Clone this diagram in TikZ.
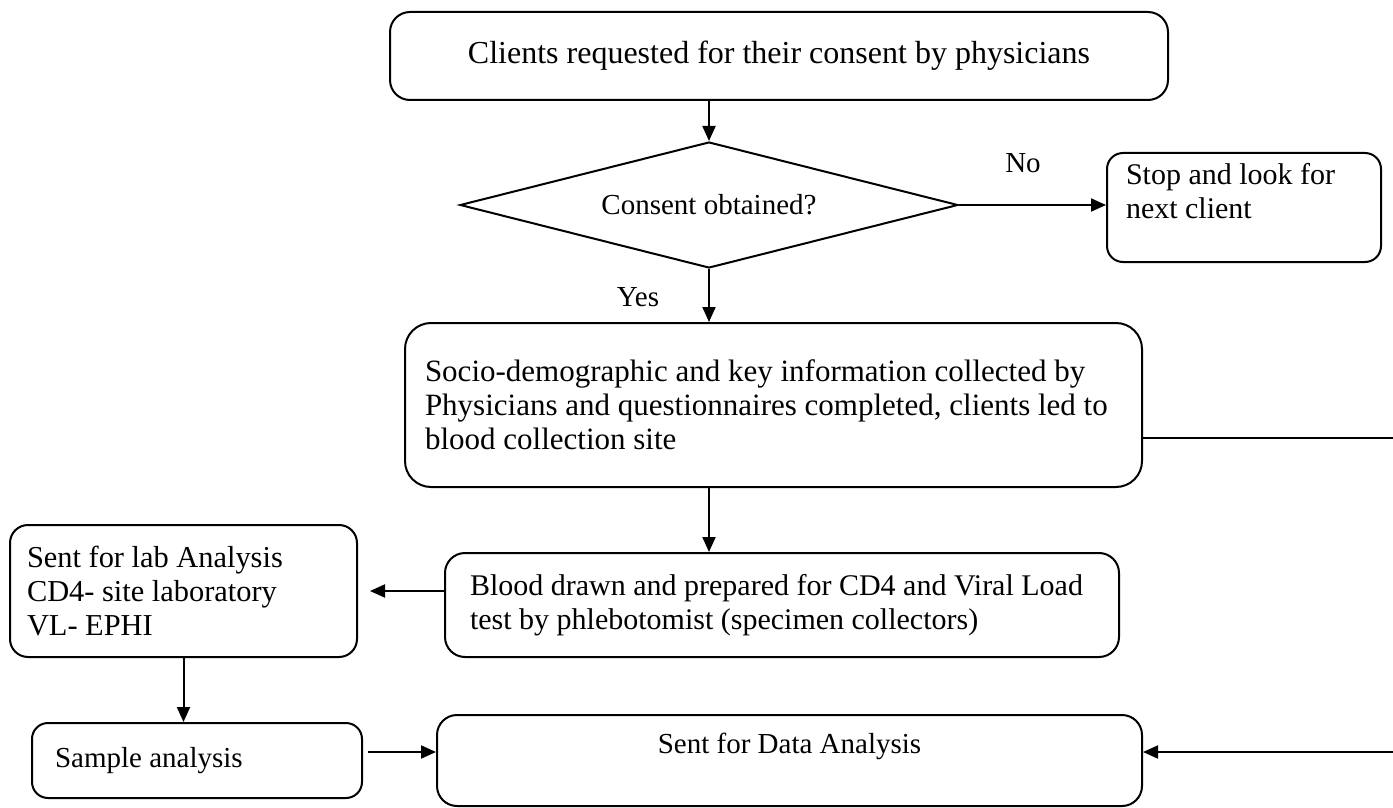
\documentclass[tikz,border=0pt]{standalone}
\usepackage{fontspec}
\setmainfont{Liberation Serif}
\usetikzlibrary{shapes.geometric,arrows.meta}
\newcommand{\fs}{\fontsize{14.5}{17}\selectfont}
\newcommand{\fsz}[1]{\fontsize{#1}{17}\selectfont}
\begin{document}
\begin{tikzpicture}[x=0.5pt,y=-0.5pt,
  box/.style={draw, line width=1pt, font=\fs, inner ysep=0pt},
  lbox/.style={box, align=flush left},
  arr/.style={line width=1pt, -{Triangle[length=7.5pt,width=6.5pt]}},
  ln/.style={line width=1pt},
  lbl/.style={font=\fs, inner sep=0pt}]
\useasboundingbox (0,0) rectangle (1393,808);
\node[box, rounded corners=10pt, minimum width=389pt, minimum height=44pt, align=center, font=\fsz{16}] (top) at (779,56) {Clients requested for their consent by physicians};
\node[draw, diamond, line width=1pt, aspect=3.95, minimum width=249pt, minimum height=63pt, inner sep=0pt, font=\fs] (dia) at (709,205) {Consent obtained?};
\node[lbox, rounded corners=8pt, minimum width=137pt, minimum height=54.5pt, inner xsep=9.5pt, text width=118pt, font=\fsz{15}] (stop) at (1244,207.5) {Stop and look for\\next client\\\mbox{}};
\node[lbox, rounded corners=13pt, minimum width=368.5pt, minimum height=82pt, inner xsep=10pt, text width=348.5pt, font=\fsz{15.5}] (socio) at (773.5,405) {Socio-demographic and key information collected by\\Physicians and questionnaires completed, clients led to\\blood collection site};
\node[lbox, rounded corners=10pt, minimum width=337pt, minimum height=52pt, inner xsep=12.5pt, text width=312pt, font=\fsz{15}] (blood) at (782,605) {Blood drawn and prepared for CD4 and Viral Load\\test by phlebotomist (specimen collectors)};
\node[lbox, rounded corners=9pt, minimum width=173.5pt, minimum height=66pt, inner xsep=8.5pt, text width=156.5pt, font=\fsz{15.2}] (lab) at (183.5,591) {Sent for lab Analysis\\CD4- site laboratory\\VL- EPHI};
\node[lbox, rounded corners=8pt, minimum width=165pt, minimum height=37.5pt, inner xsep=11.5pt, text width=142pt] (sample) at (197,760.5) {Sample analysis};
\node[box, rounded corners=10pt, minimum width=352.5pt, minimum height=45.5pt, align=center] (data) at (789.5,760.5) {Sent for Data Analysis\\\mbox{}};
\node[lbl] (no) at (1023,163) {No};
\node[lbl] (yes) at (638,297) {Yes};
\coordinate (r1) at (1393,438);
\coordinate (r2) at (1393,752);
\draw[arr] (dia.north |- top.south) -- (dia.north);
\draw[arr] (dia.east) -- (stop.west |- dia.east);
\draw[arr] (dia.south) -- (dia.south |- socio.north);
\draw[ln] (r1 -| socio.east) -- (r1);
\draw[arr] (socio.south -| dia.south) -- (blood.north -| dia.south);
\draw[arr, shorten >=6pt] (lab.east -| blood.west) -- (lab.east);
\draw[arr] (lab.south) -- (lab.south |- sample.north);
\draw[arr, shorten <=2.5pt] (r2 -| sample.east) -- (r2 -| data.west);
\draw[arr] (r2) -- (r2 -| data.east);
\end{tikzpicture}
\end{document}
